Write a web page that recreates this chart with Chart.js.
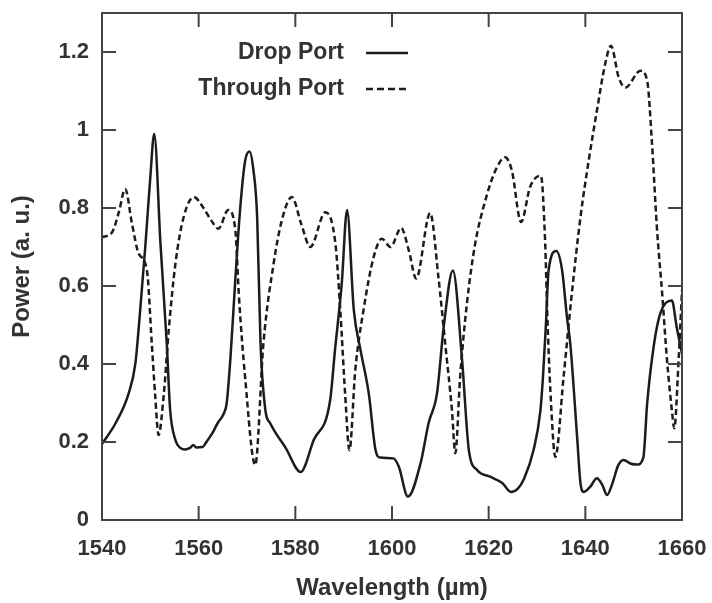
<!DOCTYPE html>
<html>
<head>
<meta charset="utf-8">
<script src="https://cdn.jsdelivr.net/npm/chart.js@4.4.1/dist/chart.umd.min.js"></script>
<style>
  html, body { margin: 0; padding: 0; background: #fff; }
  #wrap { width: 712px; height: 603px; }
</style>
</head>
<body>
<div id="wrap"><canvas id="myChart"></canvas></div>
<script>
// values
const dropWl = [
  1540, 1542.8, 1545.5, 1546.9, 1547.9, 1549.0, 1550.0, 1550.8, 1552.1, 1553.4,
  1554.1, 1555.2, 1556.2, 1557.2, 1558.2, 1558.9, 1559.5, 1560.8, 1561.6, 1562.8,
  1564.0, 1565.2, 1565.8, 1566.6, 1567.6, 1568.6, 1569.6, 1570.5, 1571.3, 1572.1,
  1572.8, 1573.8, 1574.8, 1578.0, 1581.1, 1583.8, 1587.2, 1588.2, 1589.6, 1590.7,
  1592.1, 1593.5, 1595.2, 1596.6, 1597.6, 1600.3, 1601.4, 1603.3, 1605.9, 1607.6,
  1609.3, 1610.7, 1612.6, 1614.5, 1615.9, 1617.6, 1620.3, 1622.8, 1624.6, 1626.0,
  1627.3, 1629.3, 1630.7, 1631.2, 1631.8, 1632.4, 1634.0, 1635.2, 1636.2, 1636.9,
  1638.3, 1639.0, 1639.7, 1641.0, 1642.4, 1643.5, 1644.5, 1645.5, 1646.8, 1647.9,
  1649.3, 1650.7, 1652.0, 1652.8, 1654.2, 1655.5, 1657.9, 1658.9, 1660
];
const dropPower = [
  0.195, 0.248, 0.324, 0.401, 0.538, 0.708, 0.88, 0.99, 0.708, 0.452,
  0.282, 0.205, 0.185, 0.181, 0.185, 0.192, 0.186, 0.187, 0.2, 0.222,
  0.25, 0.273, 0.3, 0.42, 0.62, 0.8, 0.92, 0.945, 0.9, 0.777,
  0.453, 0.282, 0.248, 0.185, 0.123, 0.205, 0.307, 0.435, 0.606, 0.795,
  0.538, 0.435, 0.324, 0.179, 0.16, 0.158, 0.137, 0.06, 0.145, 0.25,
  0.324, 0.495, 0.64, 0.41, 0.179, 0.128, 0.111, 0.095, 0.072, 0.08,
  0.105, 0.18, 0.28, 0.36, 0.49, 0.64, 0.69, 0.64, 0.52, 0.45,
  0.213, 0.094, 0.072, 0.085, 0.107, 0.09, 0.064, 0.09, 0.14, 0.154,
  0.145, 0.142, 0.16, 0.3, 0.45, 0.529, 0.563, 0.495, 0.427
];
const thruWl = [
  1540, 1542.1, 1543.5, 1544.8, 1546.2, 1547.6, 1549.3, 1550.3, 1551.0, 1551.7,
  1552.8, 1553.8, 1555.2, 1556.9, 1559.0, 1561.0, 1562.5, 1564.1, 1566.1, 1567.6,
  1568.3, 1569.6, 1571.7, 1573.4, 1575.5, 1577.2, 1579.3, 1581.2, 1583.1, 1586.2,
  1588.3, 1589.3, 1590.3, 1591.2, 1592.4, 1594.1, 1596.2, 1597.9, 1599.7, 1601.9,
  1603.5, 1605.0, 1607.9, 1609.6, 1611.0, 1612.4, 1613.1, 1614.1, 1615.5, 1617.2,
  1619.3, 1621.4, 1623.4, 1624.8, 1626.7, 1628.6, 1630.8, 1631.7, 1632.1, 1632.8,
  1633.8, 1635.5, 1637.2, 1639.0, 1640.7, 1642.4, 1644.1, 1645.3, 1646.9, 1648.3,
  1651.4, 1652.8, 1653.8, 1654.8, 1655.9, 1656.9, 1657.9, 1658.4, 1659.3, 1660
];
const thruPower = [
  0.725, 0.738, 0.79, 0.849, 0.76, 0.683, 0.64, 0.453, 0.32, 0.218,
  0.324, 0.486, 0.658, 0.777, 0.828, 0.8, 0.77, 0.747, 0.795, 0.742,
  0.58, 0.367, 0.141, 0.453, 0.657, 0.768, 0.828, 0.76, 0.7, 0.789,
  0.708, 0.538, 0.324, 0.179, 0.384, 0.538, 0.674, 0.721, 0.7, 0.749,
  0.69, 0.619, 0.787, 0.623, 0.453, 0.282, 0.171, 0.367, 0.555, 0.708,
  0.819, 0.896, 0.93, 0.896, 0.764, 0.855, 0.883, 0.708, 0.538, 0.324,
  0.162, 0.367, 0.58, 0.777, 0.922, 1.05, 1.169, 1.216, 1.135, 1.109,
  1.152, 1.126, 0.964, 0.751, 0.58, 0.41, 0.282, 0.235, 0.41, 0.589
];
const xTicks = [1540, 1560, 1580, 1600, 1620, 1640, 1660];
const yTicks = [0, 0.2, 0.4, 0.6, 0.8, 1, 1.2];

const FONT = "'Liberation Sans', Arial, sans-serif";
const TEXT = "#333";
const INK = "#1c1c1c";

function pairs(xs, ys) {
  return xs.map((v, i) => ({ x: v, y: ys[i] }));
}

// scales should not push the plot box in, the layout padding decides it
function noPad(s) {
  s.paddingTop = 0;
  s.paddingBottom = 0;
  s.paddingLeft = 0;
  s.paddingRight = 0;
}

// gnuplot style box with inward ticks plus the legend in the top middle
const frame = {
  id: "frame",
  afterDatasetsDraw(chart) {
    const { ctx, chartArea: a, scales } = chart;
    const x = scales.x, y = scales.y;
    const len = 14;
    ctx.save();
    ctx.strokeStyle = "#444";
    ctx.lineWidth = 2;
    ctx.strokeRect(a.left, a.top, a.right - a.left, a.bottom - a.top);
    ctx.beginPath();
    xTicks.slice(1, -1).forEach((v) => {
      const px = x.getPixelForValue(v);
      ctx.moveTo(px, a.bottom); ctx.lineTo(px, a.bottom - len);
      ctx.moveTo(px, a.top); ctx.lineTo(px, a.top + len);
    });
    yTicks.slice(1).forEach((v) => {
      const py = y.getPixelForValue(v);
      ctx.moveTo(a.left, py); ctx.lineTo(a.left + len, py);
      ctx.moveTo(a.right, py); ctx.lineTo(a.right - len, py);
    });
    ctx.stroke();

    // legend
    ctx.font = "bold 23px " + FONT;
    ctx.fillStyle = TEXT;
    ctx.textAlign = "right";
    ctx.textBaseline = "middle";
    const textRight = 344, lineL = 366, lineR = 408;
    chart.data.datasets.forEach((ds, i) => {
      const cy = 53 + i * 36;
      ctx.fillText(ds.label, textRight, cy);
      ctx.beginPath();
      ctx.strokeStyle = INK;
      ctx.lineWidth = 2.5;
      ctx.setLineDash(ds.borderDash && ds.borderDash.length ? [7, 4] : []);
      ctx.moveTo(lineL, cy);
      ctx.lineTo(lineR, cy);
      ctx.stroke();
      ctx.setLineDash([]);
    });
    ctx.restore();
  },
};

new Chart(document.getElementById("myChart"), {
  type: "line",
  data: {
    datasets: [
      {
        label: "Drop Port",
        data: pairs(dropWl, dropPower),
        borderColor: INK,
        borderWidth: 2.5,
        pointRadius: 0,
        cubicInterpolationMode: "monotone",
      },
      {
        label: "Through Port",
        data: pairs(thruWl, thruPower),
        borderColor: INK,
        borderWidth: 2.5,
        borderDash: [6, 3.5],
        pointRadius: 0,
        cubicInterpolationMode: "monotone",
      },
    ],
  },
  options: {
    responsive: true,
    maintainAspectRatio: false,
    animation: false,
    layout: { padding: { top: 13, right: 30, left: 0, bottom: 0 } },
    plugins: {
      legend: { display: false },
      tooltip: { enabled: false },
    },
    scales: {
      x: {
        type: "linear",
        min: 1540,
        max: 1660,
        afterBuildTicks: (s) => { s.ticks = xTicks.map((v) => ({ value: v })); },
        afterFit: (s) => { s.height = 83; noPad(s); },
        grid: { display: false },
        border: { display: false },
        ticks: {
          color: TEXT,
          font: { family: FONT, size: 22, weight: "bold" },
          padding: 8,
          maxRotation: 0,
          callback: (v) => String(v),
        },
        title: {
          display: true,
          text: "Wavelength (\u00b5m)",
          color: TEXT,
          font: { family: FONT, size: 24, weight: "bold" },
          padding: { top: 0, bottom: 0 },
        },
      },
      y: {
        min: 0,
        max: 1.3,
        afterBuildTicks: (s) => { s.ticks = yTicks.map((v) => ({ value: v })); },
        afterFit: (s) => { s.width = 102; noPad(s); },
        grid: { display: false },
        border: { display: false },
        ticks: {
          color: TEXT,
          font: { family: FONT, size: 22, weight: "bold" },
          padding: 5,
          callback: (v) => String(Math.round(v * 10) / 10),
        },
        title: {
          display: true,
          text: "Power (a. u.)",
          color: TEXT,
          font: { family: FONT, size: 24, weight: "bold" },
          padding: { top: 8, bottom: 0 },
        },
      },
    },
  },
  plugins: [frame],
});
</script>
</body>
</html>
